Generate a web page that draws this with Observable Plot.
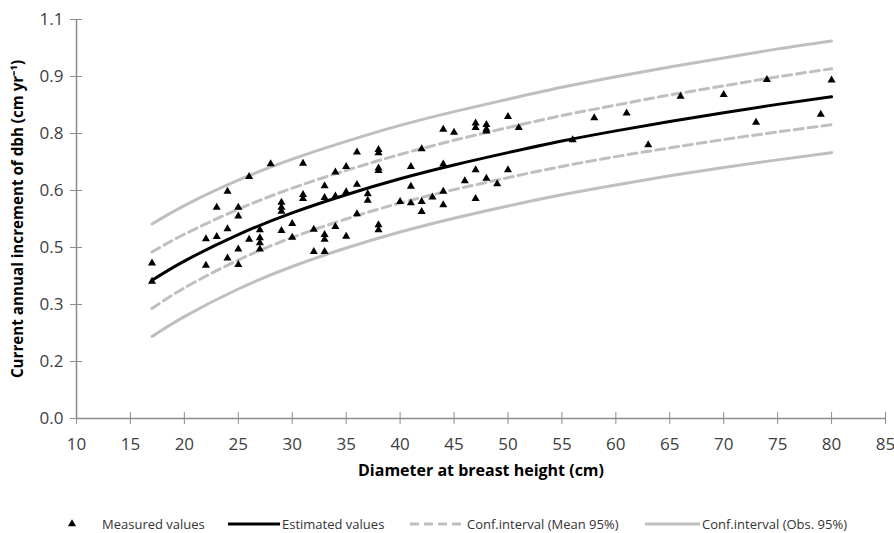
<!DOCTYPE html>
<html><head><meta charset="utf-8">
<script src="https://cdn.jsdelivr.net/npm/d3@7"></script>
<script src="https://cdn.jsdelivr.net/npm/@observablehq/plot@0.6"></script>
<style>
body{margin:0;background:#fff;font-family:"Open Sans",sans-serif;}
#wrap{position:relative;width:894px;height:533px;}
#legend{position:absolute;left:0;top:515px;width:894px;height:18px;font-size:13px;color:#333;}
#legend .it{position:absolute;top:0;height:18px;line-height:18px;white-space:nowrap;}
#legend svg{position:absolute;top:0;}
</style></head><body>
<div id="wrap"><div id="chart"></div><div id="legend"></div></div>
<script>
// ---- data ----
const xTicks = [10, 15, 20, 25, 30, 35, 40, 45, 50, 55, 60, 65, 70, 75, 80, 85];
const yTicks = [0, 0.1571, 0.3143, 0.4714, 0.6286, 0.7857, 0.9429, 1.1];
const yTickLabels = ["0.0", "0.2", "0.3", "0.5", "0.6", "0.8", "0.9", "1.1"];

const measuredX = [17, 17, 22, 22, 23, 23, 24, 24, 24, 25, 25, 25, 25, 26, 26, 27, 27, 27, 27, 28,
  29, 29, 29, 29, 30, 30, 31, 31, 31, 32, 32, 33, 33, 33, 33, 33, 34, 34, 34, 35, 35, 35,
  36, 36, 36, 37, 37, 38, 38, 38, 38, 38, 38, 40, 41, 41, 41, 42, 42, 42, 43,
  44, 44, 44, 44, 45, 46, 47, 47, 47, 47, 48, 48, 48, 48, 49, 50, 50, 51,
  56, 58, 61, 63, 66, 70, 73, 74, 79, 80];
const measuredY = [0.428, 0.378, 0.495, 0.422, 0.582, 0.501, 0.626, 0.523, 0.442, 0.582, 0.558, 0.467, 0.424, 0.667, 0.494, 0.520, 0.498, 0.484, 0.467, 0.702,
  0.596, 0.582, 0.571, 0.518, 0.537, 0.499, 0.703, 0.617, 0.606, 0.521, 0.460, 0.641, 0.609, 0.507, 0.494, 0.460, 0.679, 0.613, 0.529, 0.694, 0.625, 0.502,
  0.734, 0.645, 0.564, 0.619, 0.601, 0.741, 0.732, 0.690, 0.683, 0.534, 0.520, 0.598, 0.694, 0.640, 0.594, 0.743, 0.598, 0.570, 0.610,
  0.797, 0.701, 0.626, 0.589, 0.789, 0.655, 0.814, 0.802, 0.685, 0.606, 0.810, 0.798, 0.792, 0.662, 0.647, 0.832, 0.685, 0.802,
  0.768, 0.829, 0.842, 0.754, 0.888, 0.893, 0.816, 0.934, 0.838, 0.933];

const curveX    = [17, 20, 25, 30, 35, 40, 45, 50, 55, 60, 65, 70, 75, 80];
const estimated = [0.381, 0.434, 0.507, 0.567, 0.617, 0.661, 0.699, 0.733, 0.765, 0.793, 0.819, 0.843, 0.866, 0.887];
const meanUpper = [0.459, 0.508, 0.577, 0.635, 0.684, 0.728, 0.767, 0.802, 0.835, 0.864, 0.892, 0.917, 0.942, 0.964];
const meanLower = [0.303, 0.360, 0.437, 0.499, 0.550, 0.594, 0.631, 0.664, 0.695, 0.722, 0.746, 0.769, 0.790, 0.810];
const obsUpper  = [0.536, 0.587, 0.657, 0.715, 0.764, 0.808, 0.846, 0.880, 0.913, 0.942, 0.969, 0.994, 1.019, 1.041];
const obsLower  = [0.226, 0.281, 0.357, 0.419, 0.470, 0.514, 0.552, 0.586, 0.617, 0.644, 0.669, 0.692, 0.713, 0.733];

const xTitle = "Diameter at breast height (cm)";
const yTitle = "Current annual increment of dbh (cm yr\u207B\u00B9)";
const legendLabels = ["Measured values", "Estimated values", "Conf.interval (Mean 95%)", "Conf.interval (Obs. 95%)"];

// ---- build ----
const points = measuredX.map((x, i) => ({x, y: measuredY[i]}));
const series = (arr) => curveX.map((x, i) => ({x, y: arr[i]}));
const GRAY = "#bfbfbf", AXIS = "#8c8c8c";

const chart = Plot.plot({
  width: 894, height: 490,
  marginLeft: 76, marginRight: 9, marginTop: 19, marginBottom: 72,
  style: {fontFamily: "Open Sans", fontSize: "17px", color: "#404040", background: "#fff"},
  x: {domain: [10, 85]},
  y: {domain: [0, 1.1]},
  marks: [
    Plot.ruleY([0], {stroke: AXIS, strokeWidth: 1.5}),
    Plot.ruleX([10], {stroke: AXIS, strokeWidth: 1.5}),
    Plot.axisX({ticks: xTicks, tickSize: 12, dy: -6, tickPadding: 13, stroke: AXIS, fill: "#404040", label: null, tickFormat: d => String(d)}),
    Plot.axisY({ticks: yTicks, tickSize: 12, dx: 6, tickPadding: 7, stroke: AXIS, fill: "#404040", label: null, tickFormat: d => yTickLabels[yTicks.indexOf(d)]}),
    Plot.line(series(obsUpper), {x: "x", y: "y", stroke: GRAY, strokeWidth: 3, curve: "natural"}),
    Plot.line(series(obsLower), {x: "x", y: "y", stroke: GRAY, strokeWidth: 3, curve: "natural"}),
    Plot.line(series(meanUpper), {x: "x", y: "y", stroke: GRAY, strokeWidth: 3, strokeDasharray: "9,5", curve: "natural"}),
    Plot.line(series(meanLower), {x: "x", y: "y", stroke: GRAY, strokeWidth: 3, strokeDasharray: "9,5", curve: "natural"}),
    Plot.line(series(estimated), {x: "x", y: "y", stroke: "#000", strokeWidth: 3, curve: "natural"}),
    Plot.dot(points, {x: "x", y: "y", symbol: "triangle", r: 3, fill: "#000", stroke: "none"}),
    Plot.text([xTitle], {text: d => d, frameAnchor: "bottom", dy: 57, fontWeight: "bold", fontSize: 16, fill: "#000"}),
    Plot.text([yTitle], {text: d => d, frameAnchor: "left", textAnchor: "middle", dx: -58, rotate: -90, fontWeight: "bold", fontSize: 15.2, fill: "#000"})
  ]
});
document.getElementById("chart").appendChild(chart);

// ---- legend ----
const lg = document.getElementById("legend");
const NS = "http://www.w3.org/2000/svg";
function swatch(left, w, kind) {
  const s = document.createElementNS(NS, "svg");
  s.setAttribute("width", w); s.setAttribute("height", 18);
  s.style.left = left + "px";
  if (kind === "tri") {
    const p = document.createElementNS(NS, "path");
    p.setAttribute("d", d3.symbol(d3.symbolTriangle, 28.3)());
    p.setAttribute("transform", `translate(${w/2},9)`);
    s.appendChild(p);
  } else {
    const l = document.createElementNS(NS, "line");
    l.setAttribute("x1", 0); l.setAttribute("x2", w); l.setAttribute("y1", 9); l.setAttribute("y2", 9);
    l.setAttribute("stroke", kind === "black" ? "#000" : GRAY);
    l.setAttribute("stroke-width", 3);
    if (kind === "dash") l.setAttribute("stroke-dasharray", "9,5");
    s.appendChild(l);
  }
  lg.appendChild(s);
}
function label(left, t) {
  const d = document.createElement("div");
  d.className = "it"; d.style.left = left + "px"; d.textContent = t;
  lg.appendChild(d);
}
swatch(66, 12, "tri");  label(102, legendLabels[0]);
swatch(228, 52, "black"); label(282, legendLabels[1]);
swatch(410, 55, "dash"); label(467, legendLabels[2]);
swatch(645, 55, "gray"); label(702, legendLabels[3]);
</script>
</body></html>
